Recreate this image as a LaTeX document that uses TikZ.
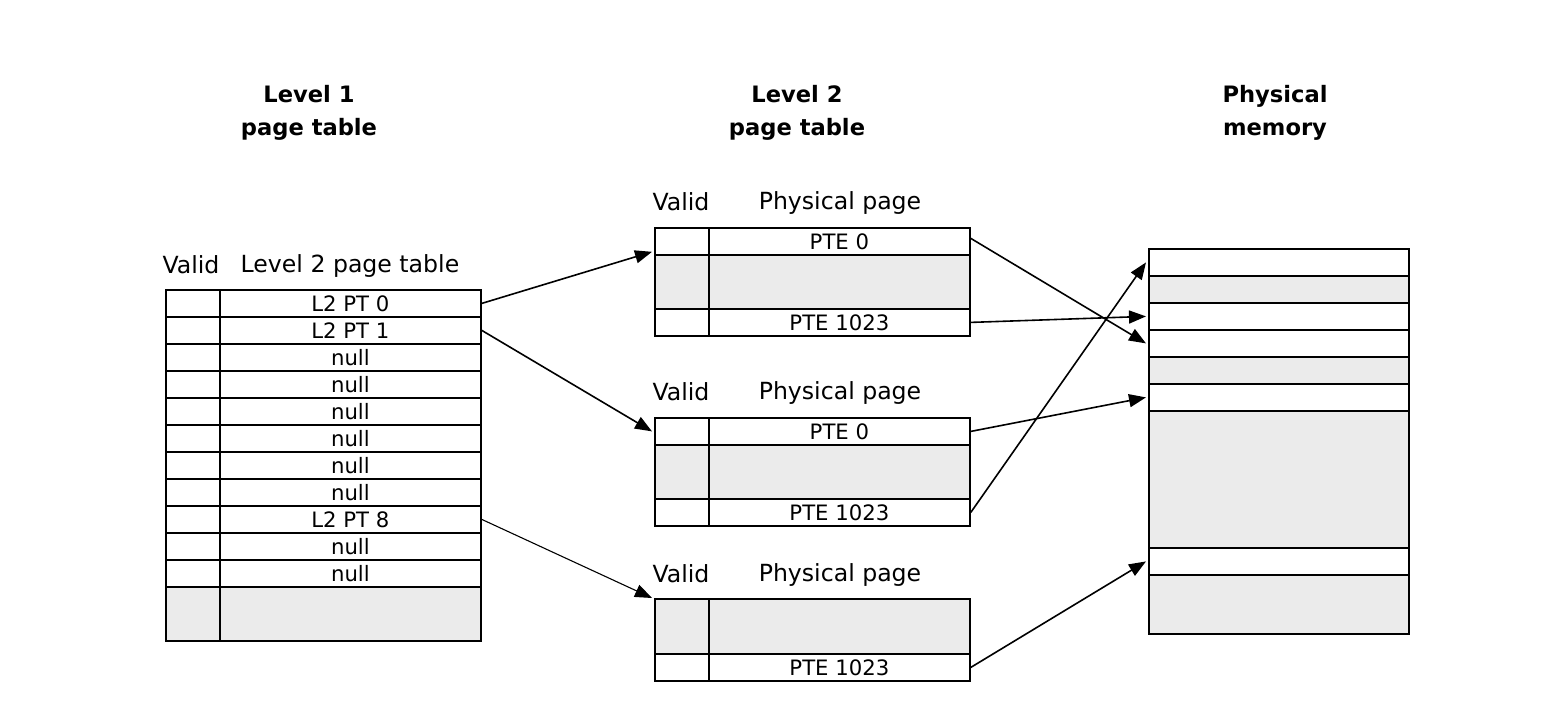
\documentclass[tikz,border=0pt]{standalone}
\usepackage{fontspec}
\setmainfont{DejaVu Sans}
\usetikzlibrary{arrows.meta,calc}
\definecolor{cellgray}{HTML}{EBEBEB}
\begin{document}
\begin{tikzpicture}[x=1pt,y=-1pt,
  cell/.style={draw=black,line width=1.8pt,rectangle,inner sep=0pt,anchor=north west,
    minimum height=27pt,font=\fontsize{21.2}{24}\selectfont},
  vcell/.style={cell,minimum width=54pt},
  gray/.style={fill=cellgray},
  hdr/.style={font=\fontsize{23.6}{28}\selectfont,inner sep=0pt},
  title/.style={font=\fontsize{22.6}{33}\selectfont\bfseries,align=center,inner sep=0pt},
  ptr/.style={line width=1.6pt,-{Triangle[length=17pt,width=13pt]}},
  thinptr/.style={ptr,line width=1.1pt}]
\useasboundingbox (0,0) rectangle (1564,722);
% titles
\node[title] (t1) at (309,113) {Level 1\\page table};
\node[title] (t2) at (797,113) {Level 2\\page table};
\node[title] (t3) at (1275,113) {Physical\\memory};
% level 1 table
\node[hdr] (l1hv) at (191,265) {Valid};
\node[hdr] (l1he) at (350,266) {Level 2 page table};
\foreach \i/\t in {1/L2 PT 0,2/L2 PT 1,3/null,4/null,5/null,6/null,7/null,8/null,9/L2 PT 8,10/null,11/null}{
  \node[vcell] (l1v\i) at (165,{289+27*(\i-1)}) {};
  \node[cell,minimum width=261pt] (l1e\i) at (219,{289+27*(\i-1)}) {\t};
}
\node[vcell,gray,minimum height=54pt] (l1v12) at (165,586) {};
\node[cell,gray,minimum width=261pt,minimum height=54pt] (l1e12) at (219,586) {};
% level 2 tables
\foreach \k/\y in {a/227,b/417}{
  \node[hdr] (h\k v) at (681,{\y-25}) {Valid};
  \node[hdr] (h\k p) at (840,{\y-24}) {Physical page};
  \node[vcell] (\k v0) at (654,\y) {};
  \node[cell,minimum width=261pt] (\k e0) at (708,\y) {PTE 0};
  \node[vcell,gray,minimum height=54pt] (\k vg) at (654,{\y+27}) {};
  \node[cell,gray,minimum width=261pt,minimum height=54pt] (\k eg) at (708,{\y+27}) {};
  \node[vcell] (\k v1) at (654,{\y+81}) {};
  \node[cell,minimum width=261pt] (\k e1) at (708,{\y+81}) {PTE 1023};
}
\node[hdr] (hcv) at (681,574) {Valid};
\node[hdr] (hcp) at (840,575) {Physical page};
\node[vcell,gray,minimum height=55pt] (cvg) at (654,598) {};
\node[cell,gray,minimum width=261pt,minimum height=55pt] (ceg) at (708,598) {};
\node[vcell] (cv1) at (654,653) {};
\node[cell,minimum width=261pt] (ce1) at (708,653) {PTE 1023};
% physical memory
\foreach \i/\y/\h/\f in {1/248/27/white,2/275/27/cellgray,3/302/27/white,4/329/27/white,
  5/356/27/cellgray,6/383/27/white,7/410/137/cellgray,8/547/27/white,9/574/59/cellgray}{
  \node[cell,fill=\f,minimum width=260pt,minimum height=\h pt] (m\i) at (1148,\y) {};
}
% pointers
\draw[ptr] (l1e1.east) -- ([xshift=-2pt,yshift=4pt]av0.south west);
\draw[ptr] (l1e2.east) -- ([xshift=-2pt]bv0.west);
\draw[thinptr] (l1e9.east) -- ([xshift=-2pt]cvg.north west);
\draw[ptr] ([yshift=3pt]ae0.east) -- ([xshift=-2pt]m4.west);
\draw[ptr] (ae1.east) -- ([xshift=-2pt]m3.west);
\draw[ptr] (be0.east) -- ([xshift=-2pt]m6.west);
\draw[ptr] (be1.east) -- ([xshift=-2pt]m1.west);
\draw[ptr] (ce1.east) -- ([xshift=-2pt]m8.west);
\end{tikzpicture}
\end{document}
